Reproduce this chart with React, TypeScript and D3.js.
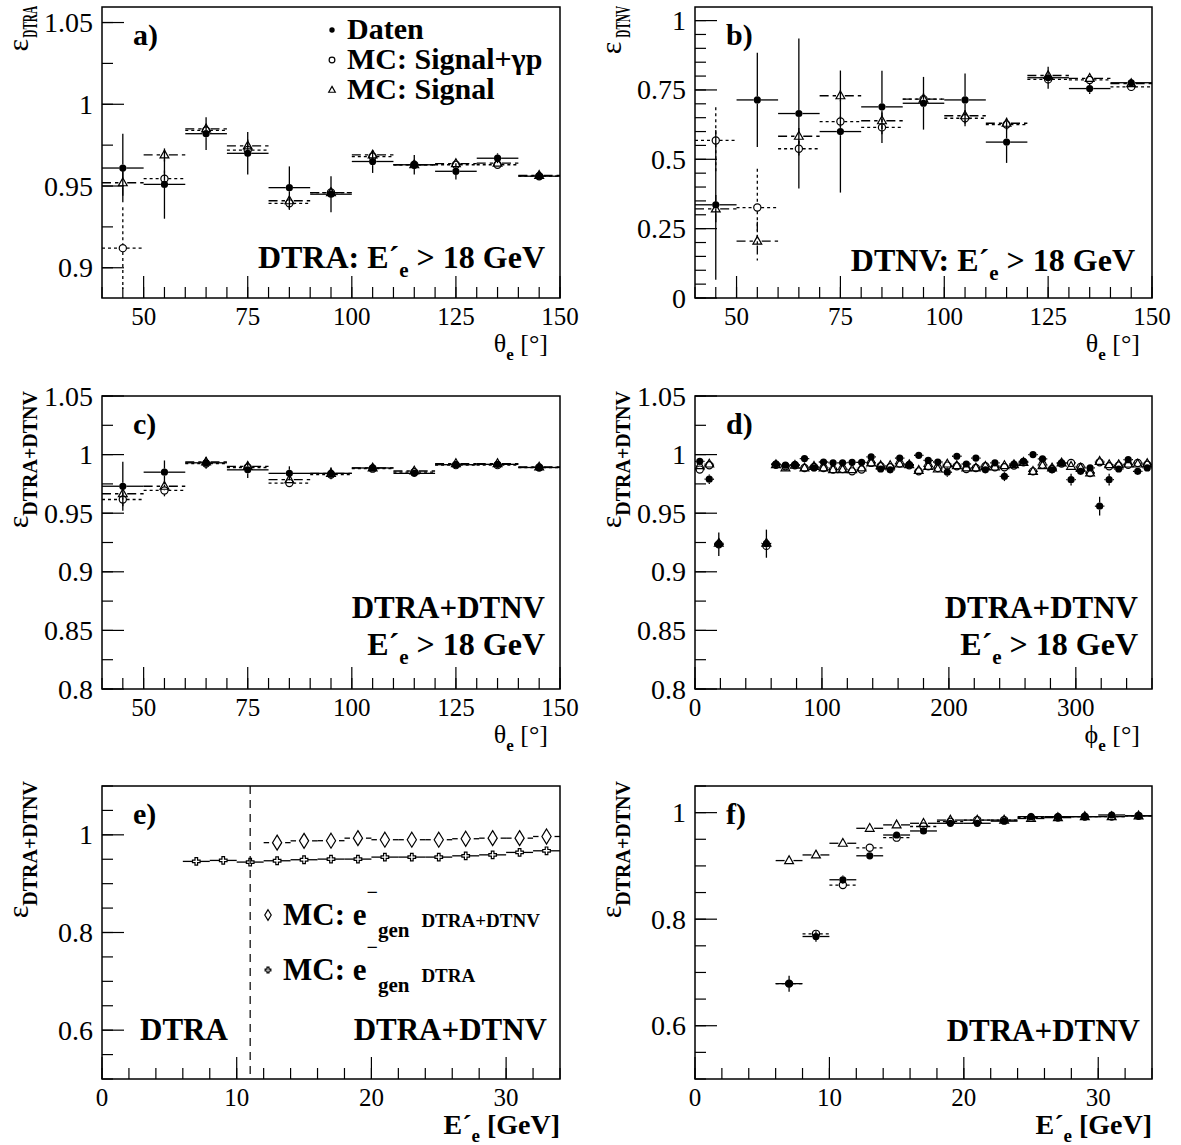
import React from 'react';
import * as d3 from 'd3';

const SERIF = "'Liberation Serif', 'Times New Roman', 'DejaVu Serif', serif";

// ---------- Panels a, b, c : theta bins ----------
const thetaCenters = [45, 55, 65, 75, 85, 95, 105, 115, 125, 135, 145];
const thetaHalfWidth = 5;

const aDaten = [0.961, 0.951, 0.982, 0.97, 0.949, 0.945, 0.965, 0.963, 0.959, 0.967, 0.956];
const aDatenErr = [0.021, 0.021, 0.01, 0.013, 0.013, 0.011, 0.007, 0.006, 0.005, 0.003, 0.002];
const aSigGp = [0.912, 0.9545, 0.984, 0.972, 0.9394, 0.946, 0.968, 0.963, 0.963, 0.963, 0.956];
const aSigGpErr = [0.025, 0.005, 0.003, 0.004, 0.004, 0.003, 0.002, 0.002, 0.002, 0.002, 0.001];
const aSig = [0.952, 0.969, 0.985, 0.9745, 0.941, 0.946, 0.969, 0.963, 0.9637, 0.964, 0.9565];
const aSigErr = [0.008, 0.004, 0.003, 0.004, 0.003, 0.003, 0.002, 0.002, 0.002, 0.002, 0.001];

const bDaten = [0.336, 0.714, 0.665, 0.6, 0.689, 0.702, 0.714, 0.562, 0.794, 0.755, 0.776];
const bDatenErr = [0.27, 0.17, 0.27, 0.22, 0.13, 0.095, 0.095, 0.075, 0.04, 0.02, 0.01];
const bSigGp = [0.568, 0.326, 0.538, 0.636, 0.615, 0.717, 0.648, 0.625, 0.788, 0.786, 0.761];
const bSigGpErr = [0.12, 0.14, 0.03, 0.02, 0.03, 0.02, 0.02, 0.02, 0.015, 0.01, 0.008];
const bSig = [0.321, 0.205, 0.583, 0.729, 0.639, 0.717, 0.657, 0.63, 0.802, 0.792, 0.773];
const bSigErr = [0.05, 0.07, 0.03, 0.02, 0.03, 0.02, 0.02, 0.02, 0.015, 0.01, 0.008];

const cDaten = [0.973, 0.985, 0.993, 0.987, 0.984, 0.984, 0.9886, 0.984, 0.9914, 0.9917, 0.989];
const cDatenErr = [0.021, 0.01, 0.005, 0.007, 0.006, 0.005, 0.003, 0.003, 0.002, 0.002, 0.001];
const cSigGp = [0.9617, 0.9694, 0.9923, 0.989, 0.9757, 0.983, 0.988, 0.985, 0.991, 0.991, 0.989];
const cSigGpErr = [0.006, 0.005, 0.002, 0.002, 0.002, 0.002, 0.001, 0.001, 0.001, 0.001, 0.001];
const cSig = [0.9666, 0.973, 0.9937, 0.99, 0.9786, 0.984, 0.9886, 0.986, 0.9923, 0.9923, 0.9894];
const cSigErr = [0.005, 0.004, 0.002, 0.002, 0.002, 0.002, 0.001, 0.001, 0.001, 0.001, 0.001];

// ---------- Panel d : phi bins ----------
const phiCenters = [3.75, 11.25, 18.75, 56.25, 63.75, 71.25, 78.75, 86.25, 93.75, 101.25, 108.75, 116.25,
  123.75, 131.25, 138.75, 146.25, 153.75, 161.25, 168.75, 176.25, 183.75, 191.25, 198.75, 206.25, 213.75,
  221.25, 228.75, 236.25, 243.75, 251.25, 258.75, 266.25, 273.75, 281.25, 288.75, 296.25, 303.75, 311.25,
  318.75, 326.25, 333.75, 341.25, 348.75, 356.25];
const phiHalfWidth = 3.75;
const dDaten = [0.9943, 0.979, 0.9235, 0.924, 0.992, 0.991, 0.9914, 0.9966, 0.9886, 0.9937, 0.993, 0.993,
  0.9934, 0.9934, 0.998, 0.9877, 0.987, 0.997, 0.9914, 0.9994, 0.995, 0.9937, 0.985, 0.9986, 0.992, 0.997,
  0.987, 0.993, 0.9814, 0.992, 0.9943, 1.0, 0.9963, 0.987, 0.993, 0.9786, 0.9857, 0.9886, 0.956, 0.9786,
  0.9877, 0.9957, 0.9857, 0.9886];
const dDatenErr = [0.003, 0.004, 0.01, 0.012, 0.002, 0.002, 0.002, 0.002, 0.002, 0.002, 0.002, 0.002,
  0.002, 0.002, 0.002, 0.003, 0.003, 0.002, 0.002, 0.002, 0.002, 0.002, 0.004, 0.002, 0.002, 0.002,
  0.003, 0.002, 0.004, 0.002, 0.002, 0.002, 0.002, 0.003, 0.002, 0.005, 0.003, 0.003, 0.008, 0.005,
  0.003, 0.002, 0.003, 0.003];
const dSigGp = [0.9872, 0.9909, 0.9235, 0.9221, 0.9914, 0.99, 0.9909, 0.9886, 0.9894, 0.9886, 0.9872, 0.9877,
  0.9857, 0.9872, 0.9929, 0.99, 0.9892, 0.9923, 0.9909, 0.9857, 0.99, 0.9886, 0.9906, 0.99, 0.9877, 0.9886,
  0.99, 0.9892, 0.9892, 0.9906, 0.9934, 0.9857, 0.9914, 0.9877, 0.9923, 0.9929, 0.9894, 0.9843, 0.9934,
  0.99, 0.9906, 0.9914, 0.9929, 0.9914];
const dSig = [0.9906, 0.992, 0.9244, 0.9244, 0.9914, 0.9886, 0.9909, 0.9886, 0.99, 0.9886, 0.9872, 0.9872,
  0.9872, 0.9886, 0.9929, 0.9906, 0.9906, 0.992, 0.9914, 0.9866, 0.99, 0.9877, 0.992, 0.9906, 0.9886, 0.9886,
  0.99, 0.9894, 0.9906, 0.9914, 0.9934, 0.9857, 0.9906, 0.9886, 0.9929, 0.99, 0.9886, 0.9843, 0.9943,
  0.9914, 0.9914, 0.992, 0.992, 0.9923];
const dMcErr = phiCenters.map(() => 0.002);

// ---------- Panel e : generated electrons ----------
const eBoundary = 11;
const eHalfWidth = 1;
const eDiamondX = [13, 15, 17, 19, 21, 23, 25, 27, 29, 31, 33];
const eDiamondY = [0.984, 0.9877, 0.988, 0.9932, 0.99, 0.99, 0.99, 0.992, 0.9932, 0.9932, 0.9966];
const eCrossX = [7, 9, 11, 13, 15, 17, 19, 21, 23, 25, 27, 29, 31, 33];
const eCrossY = [0.9456, 0.9476, 0.9442, 0.9469, 0.949, 0.9503, 0.9503, 0.9544, 0.9544, 0.9544, 0.957, 0.959, 0.964, 0.9673];

// ---------- Panel f : energy ----------
const fX = [7, 9, 11, 13, 15, 17, 19, 21, 23, 25, 27, 29, 31, 33];
const fDaten = [0.679, 0.7675, 0.874, 0.919, 0.958, 0.9656, 0.98, 0.98, 0.984, 0.9925, 0.9925, 0.9925, 0.9956, 0.994];
const fDatenErr = [0.015, 0.01, 0.008, 0.006, 0.005, 0.004, 0.003, 0.003, 0.002, 0.002, 0.002, 0.002, 0.001, 0.001];
const fSigGp = [0.679, 0.7725, 0.864, 0.934, 0.953, 0.974, 0.983, 0.986, 0.986, 0.9906, 0.991, 0.9925, 0.9925, 0.994];
const fSigGpErr = [0.006, 0.005, 0.004, 0.003, 0.003, 0.002, 0.002, 0.002, 0.001, 0.001, 0.001, 0.001, 0.001, 0.001];
const fSig = [0.91, 0.9206, 0.9425, 0.9706, 0.977, 0.98, 0.986, 0.986, 0.986, 0.989, 0.9906, 0.9925, 0.9925, 0.994];
const fSigErr = [0.003, 0.003, 0.003, 0.002, 0.002, 0.002, 0.001, 0.001, 0.001, 0.001, 0.001, 0.001, 0.001, 0.001];

// ---------- axis ticks ----------
const thetaTicks = [50, 75, 100, 125, 150];
const phiTicks = [0, 100, 200, 300];
const energyTicks = [0, 10, 20, 30];
const aYTicks = [0.9, 0.95, 1, 1.05];
const bYTicks = [0, 0.25, 0.5, 0.75, 1];
const cdYTicks = [0.8, 0.85, 0.9, 0.95, 1, 1.05];
const efYTicks = [0.6, 0.8, 1];

const legendLabels = ['Daten', 'MC: Signal+γp', 'MC: Signal'];

type MarkerKind = 'dot' | 'circle' | 'triangle' | 'diamond' | 'cross';
type Series = { xs: number[]; ys: number[]; errs: number[]; hw: number; marker: MarkerKind; dash?: string };
type Frame = { left: number; top: number; w: number; h: number };

const GAP: Record<MarkerKind, { x: number; y: number }> = {
  dot: { x: 3.6, y: 3.6 },
  circle: { x: 3.8, y: 3.8 },
  triangle: { x: 4.4, y: 4.4 },
  diamond: { x: 8, y: 8 },
  cross: { x: 3.8, y: 3.8 },
};

function Marker({ kind, cx, cy, s = 1 }: { kind: MarkerKind; cx: number; cy: number; s?: number }) {
  const t = `translate(${cx},${cy}) scale(${s})`;
  const sw = 1.2 / s;
  if (kind === 'dot') return <circle cx={cx} cy={cy} r={3.6 * s} fill="#000" />;
  if (kind === 'circle') return <circle cx={cx} cy={cy} r={3.6 * s} fill="none" stroke="#000" strokeWidth={1.2} />;
  if (kind === 'triangle') return <path transform={t} d="M0,-4.8L4.4,3L-4.4,3Z" fill="none" stroke="#000" strokeWidth={sw} />;
  if (kind === 'diamond') return <path transform={t} d="M0,-7.5L4.6,0L0,7.5L-4.6,0Z" fill="none" stroke="#000" strokeWidth={sw} />;
  return <path transform={t} d="M-1.3,-3.8H1.3V-1.3H3.8V1.3H1.3V3.8H-1.3V1.3H-3.8V-1.3H-1.3Z" fill="none" stroke="#000" strokeWidth={sw} />;
}

function SeriesMarks({ s, x, y }: { s: Series; x: d3.ScaleLinear<number, number>; y: d3.ScaleLinear<number, number> }) {
  const g = GAP[s.marker];
  return (
    <g>
      {s.xs.map((xv, i) => {
        const cx = x(xv);
        const cy = y(s.ys[i]);
        const xl = x(xv - s.hw);
        const xr = x(xv + s.hw);
        const yt = y(s.ys[i] + s.errs[i]);
        const yb = y(s.ys[i] - s.errs[i]);
        const segs: number[][] = [];
        if (cx - g.x > xl) segs.push([xl, cy, cx - g.x, cy]);
        if (xr > cx + g.x) segs.push([cx + g.x, cy, xr, cy]);
        if (cy - g.y > yt) segs.push([cx, yt, cx, cy - g.y]);
        if (yb > cy + g.y) segs.push([cx, cy + g.y, cx, yb]);
        return (
          <g key={i}>
            {segs.map((sg, j) => (
              <line key={j} x1={sg[0]} y1={sg[1]} x2={sg[2]} y2={sg[3]} stroke="#000" strokeWidth={1.3} strokeDasharray={s.dash} />
            ))}
            <Marker kind={s.marker} cx={cx} cy={cy} />
          </g>
        );
      })}
    </g>
  );
}

function minorTicks(domain: number[], step: number) {
  const i0 = Math.ceil(domain[0] / step - 1e-9);
  const i1 = Math.floor(domain[1] / step + 1e-9);
  return d3.range(i0, i1 + 1).map((i) => +(i * step).toFixed(6));
}

const fmt = (v: number) => String(+v.toFixed(3));

type PanelProps = {
  id: string;
  frame: Frame;
  xDomain: number[];
  yDomain: number[];
  xMajor: number[];
  xMinorStep: number;
  yMajor: number[];
  yMinorStep: number;
  series: Series[];
  label: string;
  ySub: string;
  ySubSqueeze?: number;
  ySubApproxLen?: number;
  yTitleEnd?: number;
  xTitle: 'theta' | 'phi' | 'energy';
  extras?: (x: d3.ScaleLinear<number, number>, y: d3.ScaleLinear<number, number>) => React.ReactNode;
};

function Panel(p: PanelProps) {
  const { frame } = p;
  const right = frame.left + frame.w;
  const bottom = frame.top + frame.h;
  const x = d3.scaleLinear().domain(p.xDomain).range([frame.left, right]);
  const y = d3.scaleLinear().domain(p.yDomain).range([bottom, frame.top]);
  const xMin = minorTicks(p.xDomain, p.xMinorStep);
  const yMin = minorTicks(p.yDomain, p.yMinorStep);
  const MAJ = 22;
  const MIN = 11;
  const yEnd = p.yTitleEnd !== undefined ? p.yTitleEnd : frame.top - 5;
  const titleX = frame.left - 74;
  return (
    <g>
      <defs>
        <clipPath id={p.id}>
          <rect x={frame.left} y={frame.top} width={frame.w} height={frame.h} />
        </clipPath>
      </defs>
      <g clipPath={`url(#${p.id})`}>
        {p.extras && p.extras(x, y)}
        {p.series.map((s, i) => (
          <SeriesMarks key={i} s={s} x={x} y={y} />
        ))}
      </g>
      <rect x={frame.left} y={frame.top} width={frame.w} height={frame.h} fill="none" stroke="#000" strokeWidth={1.5} />
      {yMin.map((v) => (
        <line key={'ym' + v} x1={frame.left} x2={frame.left + MIN} y1={y(v)} y2={y(v)} stroke="#000" strokeWidth={1.2} />
      ))}
      {p.yMajor.map((v) => (
        <line key={'yM' + v} x1={frame.left} x2={frame.left + MAJ} y1={y(v)} y2={y(v)} stroke="#000" strokeWidth={1.2} />
      ))}
      {xMin.map((v) => (
        <line key={'xm' + v} x1={x(v)} x2={x(v)} y1={bottom} y2={bottom - MIN} stroke="#000" strokeWidth={1.2} />
      ))}
      {p.xMajor.map((v) => (
        <line key={'xM' + v} x1={x(v)} x2={x(v)} y1={bottom} y2={bottom - MAJ} stroke="#000" strokeWidth={1.2} />
      ))}
      {p.yMajor.map((v) => (
        <text key={'yl' + v} x={frame.left - 9} y={y(v) + 9.5} textAnchor="end" fontFamily={SERIF} fontSize={28}>
          {fmt(v)}
        </text>
      ))}
      {p.xMajor.map((v) => (
        <text key={'xl' + v} x={x(v)} y={bottom + 27} textAnchor="middle" fontFamily={SERIF} fontSize={25}>
          {fmt(v)}
        </text>
      ))}
      <text x={frame.left + 31} y={frame.top + 38} fontFamily={SERIF} fontSize={30} fontWeight="bold">
        {p.label}
      </text>
      {p.ySubSqueeze ? (
        <g fontFamily={SERIF}>
          <text transform={`translate(${titleX + 9},${yEnd}) rotate(-90) scale(${p.ySubSqueeze},1)`} textAnchor="end" fontSize={20} fontWeight="bold">
            {p.ySub}
          </text>
          <text transform={`translate(${titleX},${yEnd + (p.ySubApproxLen || 57) * p.ySubSqueeze + 1}) rotate(-90)`} textAnchor="end" fontSize={30}>
            ε
          </text>
        </g>
      ) : (
        <text transform={`translate(${titleX},${yEnd}) rotate(-90)`} textAnchor="end" fontFamily={SERIF}>
          <tspan fontSize={30}>ε</tspan>
          <tspan dy={9} fontSize={20} fontWeight="bold">
            {p.ySub}
          </tspan>
        </text>
      )}
      {p.xTitle === 'energy' ? (
        <text x={right} y={bottom + 55} textAnchor="end" fontFamily={SERIF} fontSize={28} fontWeight="bold">
          E´<tspan dy={8} fontSize={19}>e</tspan>
          <tspan dy={-8}> [GeV]</tspan>
        </text>
      ) : (
        <text x={right - 12} y={bottom + 54} textAnchor="end" fontFamily={SERIF} fontSize={26}>
          {p.xTitle === 'theta' ? 'θ' : 'ϕ'}
          <tspan dy={8} fontSize={17} fontWeight="bold">e</tspan>
          <tspan dy={-8}> [°]</tspan>
        </text>
      )}
    </g>
  );
}

function CutText({ x, y, prefix }: { x: number; y: number; prefix: string }) {
  return (
    <text x={x} y={y} textAnchor="end" fontFamily={SERIF} fontSize={32} fontWeight="bold">
      {prefix}E´<tspan dy={9} fontSize={21}>e</tspan>
      <tspan dy={-9}>{' > 18 GeV'}</tspan>
    </text>
  );
}

const FA: Frame = { left: 102, top: 7, w: 458, h: 291 };
const FB: Frame = { left: 695, top: 7, w: 457, h: 291 };
const FC: Frame = { left: 102, top: 396, w: 458, h: 293 };
const FD: Frame = { left: 695, top: 396, w: 457, h: 293 };
const FE: Frame = { left: 102, top: 786, w: 458, h: 293 };
const FF: Frame = { left: 695, top: 786, w: 457, h: 293 };

function threeSeries(xs: number[], hw: number, daten: number[], datenErr: number[], sigGp: number[], sigGpErr: number[], sig: number[], sigErr: number[]): Series[] {
  return [
    { xs, ys: sig, errs: sigErr, hw, marker: 'triangle', dash: '9,4' },
    { xs, ys: sigGp, errs: sigGpErr, hw, marker: 'circle', dash: '3,3' },
    { xs, ys: daten, errs: datenErr, hw, marker: 'dot' },
  ];
}

export default function App() {
  const W = 1181;
  const H = 1145;
  return (
    <svg width={W} height={H} style={{ position: 'absolute', left: 0, top: 0, background: '#fff' }} xmlns="http://www.w3.org/2000/svg">
      <rect x={0} y={0} width={W} height={H} fill="#fff" />
      {/* a */}
      <Panel
        id="clipA" frame={FA} xDomain={[40, 150]} yDomain={[0.8815, 1.0595]}
        xMajor={thetaTicks} xMinorStep={5} yMajor={aYTicks} yMinorStep={0.025}
        series={threeSeries(thetaCenters, thetaHalfWidth, aDaten, aDatenErr, aSigGp, aSigGpErr, aSig, aSigErr)}
        label="a)" ySub="DTRA" ySubSqueeze={0.56} ySubApproxLen={57} yTitleEnd={6} xTitle="theta"
      />
      <g fontFamily={SERIF} fontWeight="bold" fontSize={30}>
        <Marker kind="dot" cx={FA.left + 230} cy={FA.top + 23} s={0.75} />
        <Marker kind="circle" cx={FA.left + 230} cy={FA.top + 53} s={0.8} />
        <Marker kind="triangle" cx={FA.left + 230} cy={FA.top + 83} s={0.75} />
        {legendLabels.map((t, i) => (
          <text key={t} x={FA.left + 245} y={FA.top + 32 + i * 30}>{t}</text>
        ))}
      </g>
      <CutText x={FA.left + FA.w - 15} y={FA.top + FA.h - 30} prefix="DTRA: " />

      {/* b */}
      <Panel
        id="clipB" frame={FB} xDomain={[40, 150]} yDomain={[0, 1.049]}
        xMajor={thetaTicks} xMinorStep={5} yMajor={bYTicks} yMinorStep={0.05}
        series={threeSeries(thetaCenters, thetaHalfWidth, bDaten, bDatenErr, bSigGp, bSigGpErr, bSig, bSigErr)}
        label="b)" ySub="DTNV" ySubSqueeze={0.56} ySubApproxLen={62} yTitleEnd={6} xTitle="theta"
      />
      <CutText x={FB.left + FB.w - 17} y={FB.top + FB.h - 27} prefix="DTNV: " />

      {/* c */}
      <Panel
        id="clipC" frame={FC} xDomain={[40, 150]} yDomain={[0.8, 1.05]}
        xMajor={thetaTicks} xMinorStep={5} yMajor={cdYTicks} yMinorStep={0.025}
        series={threeSeries(thetaCenters, thetaHalfWidth, cDaten, cDatenErr, cSigGp, cSigGpErr, cSig, cSigErr)}
        label="c)" ySub="DTRA+DTNV" xTitle="theta"
      />
      <text x={FC.left + FC.w - 15} y={FC.top + FC.h - 71} textAnchor="end" fontFamily={SERIF} fontSize={31} fontWeight="bold">DTRA+DTNV</text>
      <CutText x={FC.left + FC.w - 15} y={FC.top + FC.h - 34} prefix="" />

      {/* d */}
      <Panel
        id="clipD" frame={FD} xDomain={[0, 360]} yDomain={[0.8, 1.05]}
        xMajor={phiTicks} xMinorStep={20} yMajor={cdYTicks} yMinorStep={0.025}
        series={threeSeries(phiCenters, phiHalfWidth, dDaten, dDatenErr, dSigGp, dMcErr, dSig, dMcErr)}
        label="d)" ySub="DTRA+DTNV" xTitle="phi"
      />
      <text x={FD.left + FD.w - 14} y={FD.top + FD.h - 71} textAnchor="end" fontFamily={SERIF} fontSize={31} fontWeight="bold">DTRA+DTNV</text>
      <CutText x={FD.left + FD.w - 14} y={FD.top + FD.h - 34} prefix="" />

      {/* e */}
      <Panel
        id="clipE" frame={FE} xDomain={[0, 34]} yDomain={[0.5, 1.1]}
        xMajor={energyTicks} xMinorStep={2} yMajor={efYTicks} yMinorStep={0.05}
        series={[
          { xs: eCrossX, ys: eCrossY, errs: eCrossX.map(() => 0.001), hw: eHalfWidth, marker: 'cross' },
          { xs: eDiamondX, ys: eDiamondY, errs: eDiamondX.map(() => 0.001), hw: eHalfWidth, marker: 'diamond' },
        ]}
        label="e)" ySub="DTRA+DTNV" xTitle="energy"
        extras={(x) => (
          <line x1={x(eBoundary)} x2={x(eBoundary)} y1={FE.top} y2={FE.top + FE.h} stroke="#000" strokeWidth={1.2} strokeDasharray="8,6" />
        )}
      />
      <g fontFamily={SERIF} fontWeight="bold">
        <Marker kind="diamond" cx={FE.left + 166} cy={FE.top + 129} s={0.7} />
        <Marker kind="cross" cx={FE.left + 166} cy={FE.top + 184} s={0.75} />
        <text x={FE.left + 181} y={FE.top + 139} fontSize={31}>
          MC: e<tspan dy={-26} fontSize={20}>−</tspan>
          <tspan dy={38} fontSize={21}>gen</tspan>
          <tspan dx={12} dy={-10} fontSize={19}>DTRA+DTNV</tspan>
        </text>
        <text x={FE.left + 181} y={FE.top + 194} fontSize={31}>
          MC: e<tspan dy={-26} fontSize={20}>−</tspan>
          <tspan dy={38} fontSize={21}>gen</tspan>
          <tspan dx={12} dy={-10} fontSize={19}>DTRA</tspan>
        </text>
        <text x={FE.left + 38} y={FE.top + FE.h - 39} fontSize={31}>DTRA</text>
        <text x={FE.left + FE.w - 13} y={FE.top + FE.h - 39} fontSize={31} textAnchor="end">DTRA+DTNV</text>
      </g>

      {/* f */}
      <Panel
        id="clipF" frame={FF} xDomain={[0, 34]} yDomain={[0.5, 1.05]}
        xMajor={energyTicks} xMinorStep={2} yMajor={efYTicks} yMinorStep={0.05}
        series={threeSeries(fX, eHalfWidth, fDaten, fDatenErr, fSigGp, fSigGpErr, fSig, fSigErr)}
        label="f)" ySub="DTRA+DTNV" xTitle="energy"
      />
      <text x={FF.left + FF.w - 12} y={FF.top + FF.h - 38} textAnchor="end" fontFamily={SERIF} fontSize={31} fontWeight="bold">DTRA+DTNV</text>
    </svg>
  );
}
